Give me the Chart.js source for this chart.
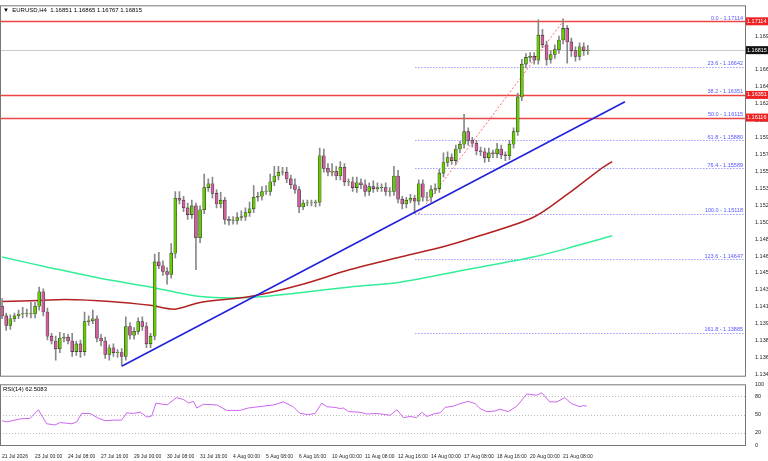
<!DOCTYPE html>
<html><head><meta charset="utf-8">
<script src="https://cdn.jsdelivr.net/npm/chart.js@4.4.1/dist/chart.umd.min.js"></script>
<style>html,body{margin:0;padding:0;background:#fff;overflow:hidden}
#w1{position:absolute;left:0;top:0;width:768px;height:381px}
#w2{position:absolute;left:0;top:379px;width:768px;height:82px}</style>
</head><body>
<div id="w1"><canvas id="c1"></canvas></div>
<div id="w2"><canvas id="c2"></canvas></div>
<script>
const closes=[1.1406,1.1396,1.1403,1.1406,1.1408,1.1408,1.1408,1.1408,1.1416,1.1431,
1.1410,1.1385,1.1380,1.1372,1.1383,1.1384,1.1380,1.1369,1.1377,1.1369,
1.1400,1.1401,1.1403,1.1383,1.1380,1.1366,1.1373,1.1368,1.1368,1.1364,
1.1395,1.1386,1.1390,1.1400,1.1395,1.1377,1.1385,1.1462,1.1458,1.1452,
1.1449,1.1471,1.1528,1.1526,1.1518,1.1511,1.1520,1.1487,1.1516,1.1539,
1.1543,1.1533,1.1522,1.1526,1.1506,1.1505,1.1505,1.1508,1.1509,1.1513,
1.1517,1.1529,1.1530,1.1535,1.1535,1.1545,1.1551,1.1555,1.1555,1.1548,
1.1542,1.1537,1.1519,1.1523,1.1523,1.1523,1.1524,1.1572,1.1559,1.1555,
1.1556,1.1551,1.1560,1.1545,1.1545,1.1539,1.1544,1.1542,1.1535,1.1540,
1.1538,1.1539,1.1539,1.1535,1.1535,1.1551,1.1527,1.1522,1.1526,1.1528,
1.1525,1.1543,1.1529,1.1529,1.1537,1.1538,1.1554,1.1565,1.1570,1.1567,
1.1579,1.1584,1.1597,1.1588,1.1585,1.1577,1.1576,1.1570,1.1575,1.1574,
1.1579,1.1573,1.1572,1.1584,1.1597,1.1633,1.1667,1.1674,1.1675,1.1671,
1.1697,1.1687,1.1672,1.1677,1.1682,1.1692,1.1704,1.1690,1.1681,1.1675,
1.1685,1.1681,1.16815];
const firstOpen=1.1416;
const wickHi=[.0008,.0003,.0004,.0003,.0004,.0007,.0005,.0012,.0004,.0005,
.0003,.0004,.0003,.0005,.0006,.0004,.0003,.0008,.0003,.0004,
.0010,.0005,.0009,.0003,.0004,.0004,.0003,.0004,.0003,.0004,
.0010,.0004,.0004,.0004,.0005,.0004,.0003,.0008,.0010,.0005,
.0004,.0010,.0007,.0007,.0004,.0005,.0006,.0003,.0004,.0014,
.0005,.0007,.0004,.0008,.0003,.0003,.0004,.0005,.0006,.0005,
.0007,.0012,.0004,.0005,.0006,.0008,.0010,.0006,.0005,.0005,
.0004,.0006,.0003,.0003,.0003,.0003,.0002,.0008,.0007,.0005,
.0008,.0005,.0006,.0004,.0003,.0005,.0006,.0004,.0005,.0004,
.0006,.0005,.0004,.0005,.0004,.0010,.0006,.0003,.0003,.0004,
.0003,.0004,.0004,.0005,.0004,.0005,.0004,.0010,.0006,.0004,
.0004,.0003,.0018,.0004,.0003,.0003,.0004,.0004,.0005,.0003,
.0006,.0004,.0003,.0004,.0004,.0004,.0005,.0004,.0004,.0004,
.0016,.0006,.0004,.0004,.0005,.0004,.0010,.0003,.0004,.0004,
.0004,.0004,.0005];
const wickLo=[.0003,.0005,.0004,.0003,.0003,.0004,.0003,.0004,.0004,.0004,
.0004,.0004,.0003,.0012,.0004,.0004,.0003,.0005,.0004,.0006,
.0004,.0004,.0003,.0004,.0005,.0004,.0006,.0004,.0005,.0010,
.0004,.0004,.0004,.0003,.0004,.0004,.0004,.0004,.0003,.0004,
.0010,.0004,.0005,.0004,.0004,.0005,.0004,.0033,.0005,.0004,
.0004,.0005,.0004,.0004,.0005,.0005,.0004,.0004,.0003,.0004,
.0004,.0004,.0004,.0004,.0003,.0004,.0004,.0004,.0003,.0004,
.0004,.0004,.0006,.0003,.0003,.0003,.0004,.0004,.0004,.0004,
.0004,.0004,.0004,.0004,.0004,.0004,.0005,.0004,.0005,.0004,
.0004,.0003,.0004,.0004,.0005,.0004,.0004,.0005,.0004,.0003,
.0013,.0004,.0004,.0004,.0005,.0004,.0004,.0004,.0004,.0004,
.0004,.0004,.0004,.0005,.0004,.0004,.0004,.0005,.0004,.0004,
.0004,.0004,.0005,.0004,.0004,.0004,.0004,.0004,.0005,.0004,
.0004,.0003,.0006,.0004,.0004,.0004,.0004,.0022,.0006,.0005,
.0004,.0005,.0004];
const ma100=[[0,1.1421],[9.2,1.1422],[15.3,1.1423],[26.2,1.1421],[35.9,1.1417],[41.9,1.1413],[48,1.1420],[60.1,1.1426],[72.2,1.1438],[84.4,1.1454],[96.5,1.1467],[104.5,1.1475],[112.7,1.1485],[128.7,1.1508],[137,1.1532],[145,1.1558],[147.9,1.1566]];
const ma200=[[0,1.1467],[11.6,1.1456],[23.8,1.1445],[35.9,1.1436],[48,1.1426],[60.1,1.1425],[72.2,1.1430],[84.4,1.1436],[96.5,1.1441],[112.7,1.1454],[128.7,1.1467],[137,1.1476],[147.9,1.1489]];
const trendLine=[[29.1,1.1354],[151,1.1628]];
const fibLevels=[0,23.6,38.2,50.0,61.8,76.4,100.0,123.6,161.8];
const fibPrices=[1.17114,1.16642,1.16351,1.16115,1.15880,1.15589,1.15118,1.14647,1.13885];
const fibStart=100.2;
const fibConnector=[[101,1.15118],[136,1.17114]];
const redLevels=[1.17114,1.16351,1.16116];
const lastPrice=1.16815;
const priceTicks=[1.13455,1.13630,1.13805,1.13980,1.14155,1.14330,1.14505,1.14680,1.14855,1.15030,1.15205,1.15385,1.15560,1.15735,1.15910,1.16085,1.16260,1.16435,1.16610,1.16960];
const rsi=[[0,40],[1.1,38],[4.4,43],[6.8,44],[8.8,58],[10.8,35],[12.8,33],[14.1,37],[16.9,35],[18.1,38],[19.3,52],[21.3,52],[23.4,44],[25,40],[27,41],[29,41],[30.2,53],[31.8,52],[33.5,54],[35.1,46],[36.3,48],[37.3,69],[40,66],[42.3,78],[44,75],[45.2,69],[46.4,72],[47.2,61],[48.8,67],[52.1,66],[54.5,57],[57.7,57],[59.7,61],[63.4,64],[65.8,66],[68.2,71],[70.6,63],[72.2,52],[74.3,50],[75.9,52],[77.5,69],[78.7,63],[80.7,62],[82,60],[82.7,61],[84,55],[86.8,54],[88.4,51],[90.8,52],[94.1,49],[95.7,58],[97.3,45],[98.9,47],[100.5,45],[101.7,54],[103,47],[105,52],[106.2,53],[107.4,62],[109.4,64],[111,68],[113,72],[114.7,68],[115.9,60],[117.5,55],[119.5,56],[120.7,59],[122.7,55],[124.8,64],[127.2,84],[129.6,82],[130.8,86],[132.8,71],[134.5,71],[136.4,78],[138.1,68],[140.1,63],[140.9,65],[141.7,64]];
const timeTickIdx=[0,8,16,24,32,40,48,56,64,72,80,88,96,104,112,120,128,136];
const timeLabels=["21 Jul 2026","23 Jul 00:00","24 Jul 08:00","27 Jul 16:00","29 Jul 00:00","30 Jul 08:00","31 Jul 16:00","4 Aug 00:00","5 Aug 08:00","6 Aug 16:00","10 Aug 00:00","11 Aug 08:00","12 Aug 16:00","14 Aug 00:00","17 Aug 08:00","18 Aug 16:00","20 Aug 00:00","21 Aug 08:00"];
const rsiTicks=[0,20,50,80,100];
const headerText="EURUSD,H4  1.16851 1.16865 1.16767 1.16815";
const rsiTitle="RSI(14) 62.5083";

const XMIN=-0.5, XMAX=180.1, AXW=23;
const F='"Liberation Sans", Arial, sans-serif';
const opens=closes.map((c,i)=>i===0?firstOpen:closes[i-1]);
const GREEN='#66cc00', PINK='#d0609c';
const wicks=closes.map((c,i)=>({x:i,y:[Math.min(opens[i],c)-wickLo[i],Math.max(opens[i],c)+wickHi[i]]}));
const bodies=closes.map((c,i)=>({x:i,y:[opens[i],c===opens[i]?c+0.00003:c]}));
const bodyCol=closes.map((c,i)=>c>=opens[i]?GREEN:PINK);
const pts=a=>a.map(p=>({x:p[0],y:p[1]}));

const frame={id:'frame',afterDraw(ch){const a=ch.chartArea,c=ch.ctx;c.save();c.strokeStyle='#777';c.lineWidth=1;c.strokeRect(a.left+0.5,a.top+0.5,a.right-a.left,a.bottom-a.top);c.restore();}};
const deco={id:'deco',
beforeDatasetsDraw(ch){const c=ch.ctx,y=ch.scales.y,x=ch.scales.x,a=ch.chartArea;c.save();
 const lp=Math.round(y.getPixelForValue(lastPrice))+0.5;
 c.strokeStyle='#c8c8c8';c.lineWidth=1;c.beginPath();c.moveTo(a.left,lp);c.lineTo(a.right,lp);c.stroke();
 c.strokeStyle='#6b6bff';c.setLineDash([1,2]);
 fibPrices.forEach(p=>{const py=Math.round(y.getPixelForValue(p))+0.5;c.beginPath();c.moveTo(x.getPixelForValue(fibStart),py);c.lineTo(a.right,py);c.stroke();});
 c.setLineDash([]);
 c.strokeStyle='#ee4444';c.lineWidth=1.5;
 redLevels.forEach(p=>{const py=Math.round(y.getPixelForValue(p))+0.5;c.beginPath();c.moveTo(a.left,py);c.lineTo(a.right,py);c.stroke();});
 c.restore();},
afterDraw(ch){const c=ch.ctx,y=ch.scales.y,a=ch.chartArea;c.save();
 c.font='5.5px '+F;c.fillStyle='#5555ff';c.textAlign='right';c.textBaseline='bottom';
 fibPrices.forEach((p,i)=>{c.fillText(fibLevels[i].toFixed(1)+' - '+p.toFixed(5),a.right-2,y.getPixelForValue(p)-0.5);});
 c.textAlign='left';c.textBaseline='middle';c.font='5.5px '+F;
 const box=(p,bg)=>{const py=y.getPixelForValue(p);c.fillStyle=bg;c.fillRect(a.right+1,py-4,22,8);c.fillStyle='#fff';c.fillText(p.toFixed(5),a.right+2,py);};
 redLevels.forEach(p=>box(p,'#ee2222'));box(lastPrice,'#111');
 c.fillStyle='#000';c.font='6px '+F;c.fillText('\u25BC  '+headerText,a.left+3,a.top+5);
 c.restore();}};

new Chart(document.getElementById('c1'),{type:'bar',
data:{datasets:[
 {type:'line',data:pts(ma200),borderColor:'#33ee99',borderWidth:1.5,pointRadius:0,tension:0.3,order:5},
 {type:'line',data:pts(ma100),borderColor:'#b22222',borderWidth:1.5,pointRadius:0,tension:0.3,order:4},
 {type:'line',data:pts(fibConnector),borderColor:'#ff6666',borderWidth:1,borderDash:[2,2],pointRadius:0,order:3},
 {type:'bar',data:wicks,backgroundColor:'#888',barThickness:1,grouped:false,order:2},
 {type:'bar',data:bodies,backgroundColor:bodyCol,borderColor:'#333',borderWidth:0.6,borderSkipped:false,barThickness:3,grouped:false,order:1},
 {type:'line',data:pts(trendLine),borderColor:'#2222dd',borderWidth:1.6,pointRadius:0,order:0}
]},
options:{responsive:true,maintainAspectRatio:false,animation:false,
 layout:{padding:{top:2,left:0,right:0,bottom:0}},
 plugins:{legend:{display:false},tooltip:{enabled:false}},
 scales:{x:{type:'linear',min:XMIN,max:XMAX,display:false,offset:false},
  y:{position:'right',min:1.1344,max:1.1728,grid:{display:false},border:{display:false},
   afterFit(s){s.width=AXW;},afterBuildTicks(s){s.ticks=priceTicks.map(v=>({value:v}));},
   ticks:{font:{size:5.5,family:F},color:'#222',padding:2,callback:v=>Number(v).toFixed(5)}}}},
plugins:[frame,deco]});

const rsiDeco={id:'rsiDeco',beforeDatasetsDraw(ch){const c=ch.ctx,y=ch.scales.y,a=ch.chartArea;c.save();c.strokeStyle='#bbb';c.setLineDash([1,2]);
 [20,50,80].forEach(v=>{const py=Math.round(y.getPixelForValue(v))+0.5;c.beginPath();c.moveTo(a.left,py);c.lineTo(a.right,py);c.stroke();});c.restore();},
 afterDraw(ch){const c=ch.ctx,a=ch.chartArea;c.save();c.font='6px '+F;c.fillStyle='#000';c.textBaseline='middle';c.fillText(rsiTitle,a.left+3,a.top+5);c.restore();}};
new Chart(document.getElementById('c2'),{type:'line',
data:{datasets:[{data:pts(rsi),borderColor:'#cc66ee',borderWidth:1,pointRadius:0}]},
options:{responsive:true,maintainAspectRatio:false,animation:false,
 layout:{padding:{top:4,left:0,right:0,bottom:0}},
 plugins:{legend:{display:false},tooltip:{enabled:false}},
 scales:{x:{type:'linear',min:XMIN,max:XMAX,grid:{display:false},border:{display:false},
   afterBuildTicks(s){s.ticks=timeTickIdx.map(v=>({value:v}));},
   ticks:{autoSkip:false,maxRotation:0,align:'start',font:{size:5,family:F},color:'#222',padding:1,callback:(v)=>timeLabels[timeTickIdx.indexOf(v)]}},
  y:{position:'right',min:0,max:100,grid:{display:false},border:{display:false},afterFit(s){s.width=AXW;},
   afterBuildTicks(s){s.ticks=rsiTicks.map(v=>({value:v}));},ticks:{font:{size:5.5,family:F},color:'#222',padding:2}}}},
plugins:[frame,rsiDeco]});
</script></body></html>
